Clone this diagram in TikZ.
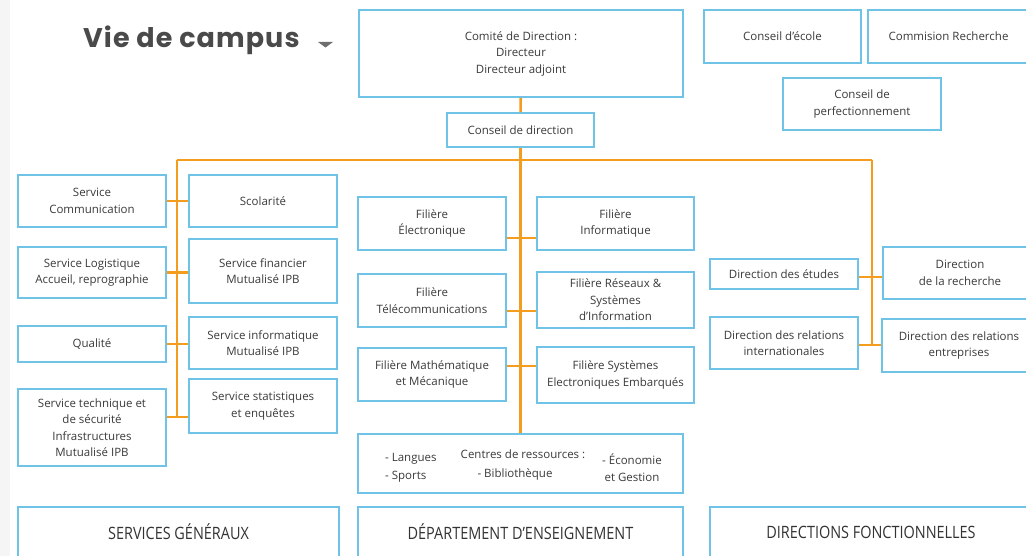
\documentclass[tikz,border=0pt]{standalone}
\usepackage{fontspec}
\setmainfont{Open Sans}
\newfontfamily\titlefont[LetterSpace=4]{Poppins}
\newfontfamily\capsfont[FakeStretch=0.85]{Open Sans}
\usepackage{xcolor}
\usetikzlibrary{positioning,calc}

\definecolor{boxblue}{HTML}{6EC3E6}
\definecolor{linkorange}{HTML}{F39C1E}
\definecolor{txtgray}{HTML}{3A3A3A}
\definecolor{titlegray}{HTML}{4A4A4A}

\begin{document}
\begin{tikzpicture}[x=1pt, y=-1pt,
    box/.style={draw=boxblue, line width=1.6pt, align=center, inner sep=2pt,
      text=txtgray, font=\fontsize{11.5}{16.5}\selectfont},
    plain/.style={text=txtgray, inner sep=0pt, font=\fontsize{11.5}{16.5}\selectfont},
    pole/.style={box, text=black!80, font=\capsfont\fontsize{17}{20}\selectfont},
    link/.style={draw=linkorange, line width=2.6pt}]
    \useasboundingbox (0,0) rectangle (1026,556);
    \fill[white] (0,0) rectangle (1026,556);
    \fill[black!4] (0,0) rectangle (10,556);

    % Title
    \node[anchor=base west, inner sep=0pt, text=titlegray, font=\titlefont\bfseries\fontsize{27}{30}\selectfont] (title) at (83,48) {Vie de campus};
    \fill[titlegray!80] (318,42) -- (333,42) -- (325.5,47.5) -- cycle;

    % Direction
    \node[box, minimum width=324pt, minimum height=87pt] (comite) at (521,53.5) {Comité de Direction :\\Directeur\\Directeur adjoint};
    \node[box, minimum width=147pt, minimum height=34pt] (conseil) at (520.5,130) {Conseil de direction};
    \node[box, minimum width=157pt, minimum height=53pt] (ecole) at (782.5,36.5) {Conseil d’école};
    \node[box, minimum width=161pt, minimum height=53pt] (commission) at (948.5,36.5) {Commision Recherche};
    \node[box, minimum width=158pt, minimum height=52pt] (perf) at (862,104) {Conseil de\\perfectionnement};

    % Services generaux
    \node[box, minimum width=148pt, minimum height=52pt] (comm) at (92,201) {Service\\Communication};
    \node[box, minimum width=148pt, minimum height=52pt] (scol) at (263,201) {Scolarité};
    \node[box, minimum width=148pt, minimum height=51pt] (logi) at (92,272.5) {Service Logistique\\Accueil, reprographie};
    \node[box, minimum width=148pt, minimum height=64pt] (fin) at (263,271) {Service financier\\Mutualisé IPB};
    \node[box, minimum width=148pt, minimum height=36pt] (qual) at (92,344) {Qualité};
    \node[box, minimum width=148pt, minimum height=52pt] (info) at (263,343) {Service informatique\\Mutualisé IPB};
    \node[box, minimum width=148pt, minimum height=77pt] (tech) at (92,427.5) {Service technique et\\de sécurité\\Infrastructures\\Mutualisé IPB};
    \node[box, minimum width=148pt, minimum height=54pt] (stat) at (263,406) {Service statistiques\\et enquêtes};

    % Filieres
    \node[box, minimum width=148pt, minimum height=53pt] (fel) at (432,223.5) {Filière\\Électronique};
    \node[box, minimum width=157pt, minimum height=53pt] (finf) at (615.5,223.5) {Filière\\Informatique};
    \node[box, minimum width=148pt, minimum height=53pt] (ftel) at (432,300.5) {Filière\\Télécommunications};
    \node[box, minimum width=157pt, minimum height=56pt] (fres) at (615.5,300) {Filière Réseaux \&\\Systèmes\\d’Information};
    \node[box, minimum width=148pt, minimum height=53pt] (fmat) at (432,374.5) {Filière Mathématique\\et Mécanique};
    \node[box, minimum width=157pt, minimum height=56pt] (fsys) at (615.5,375) {Filière Systèmes\\Electroniques Embarqués};

    % Centres de ressources
    \node[box, minimum width=325pt, minimum height=59pt] (centres) at (520.5,463.5) {};
    \node[plain, align=left, anchor=west, font=\fontsize{11.5}{18}\selectfont] (lang) at (385,468) {- Langues\\- Sports};
    \node[plain] (ctitle) at (523,454) {Centres de ressources :};
    \node[plain] (biblio) at (515,474) {- Bibliothèque};
    \node[plain, align=center, font=\fontsize{11.5}{17}\selectfont] (eco) at (632,467.5) {- Économie\\et Gestion};

    % Directions fonctionnelles
    \node[box, minimum width=148pt, minimum height=30pt] (detu) at (784,274) {Direction des études};
    \node[box, minimum width=154pt, minimum height=52pt] (drech) at (960,273) {Direction\\de la recherche};
    \node[box, minimum width=148pt, minimum height=52pt] (dri) at (784,343) {Direction des relations\\internationales};
    \node[box, minimum width=154pt, minimum height=53pt] (dre) at (959,345.5) {Direction des relations\\entreprises};

    % Poles
    \node[pole, minimum width=321pt, minimum height=50pt] (sg) at (178.5,532) {SERVICES GÉNÉRAUX};
    \node[pole, minimum width=325pt, minimum height=50pt] (de) at (520.5,532) {DÉPARTEMENT D’ENSEIGNEMENT};
    \node[pole, minimum width=322pt, minimum height=50pt] (df) at (871,532) {DIRECTIONS FONCTIONNELLES};

    % Orange links
    \coordinate (hubL) at (177,160);
    \coordinate (hubR) at (872,160);
    \coordinate (endL) at (177,417);
    \coordinate (endR) at (872,345);
    \draw[link] (comite) -- (conseil);
    \draw[link] (conseil) -- (centres);
    \draw[link] (hubL) -- (hubR);
    \draw[link] (hubL) -- (endL);
    \draw[link] (hubR) -- (endR);

    \draw[link] (comm.east) -- (scol.west);
    \draw[link] (logi.east) -- (logi.east -| fin.west);
    \draw[link] (qual.east) -- (qual.east -| info.west);
    \draw[link] (tech.east |- endL) -- (stat.west |- endL);

    \draw[link] (fel.east |- 0,238) -- (finf.west |- 0,238);
    \draw[link] (ftel.east |- 0,311) -- (fres.west |- 0,311);
    \draw[link] (fmat.east |- 0,366) -- (fsys.west |- 0,366);

    \draw[link] (detu.east |- 0,277) -- (drech.west |- 0,277);
    \draw[link] (dri.east |- endR) -- (dre.west |- endR);
\end{tikzpicture}
\end{document}
